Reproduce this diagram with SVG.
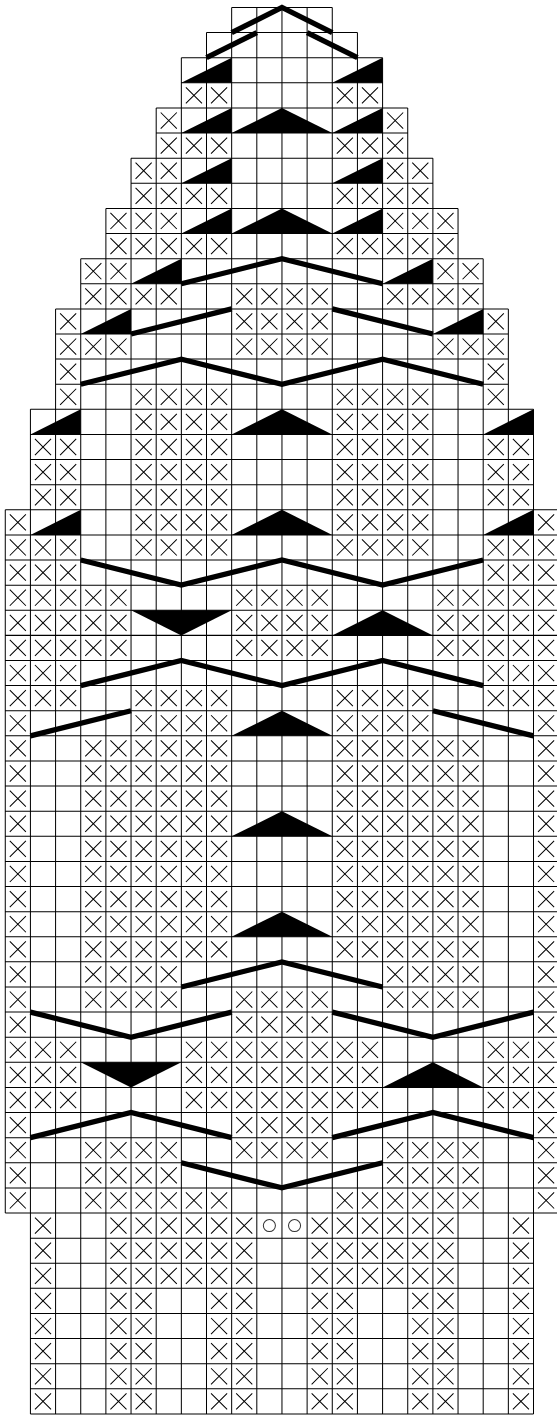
<svg xmlns="http://www.w3.org/2000/svg" width="557" height="1416" viewBox="0 0 557 1416">
<style>
.g{fill:none;stroke:#000;stroke-width:.04}
.k{fill:none;stroke:#000;stroke-width:.04}
.t{fill:none;stroke:#000;stroke-width:.21;stroke-linejoin:miter;stroke-miterlimit:10}
.f{fill:#000;stroke:none}
.o{fill:none;stroke:#333;stroke-width:.04}
</style>
<defs>
<path id="x" class="k" d="M.18 .18L.82 .82M.82 .18L.18 .82"/>
<g id="x2"><use href="#x"/><use href="#x" x="1"/></g>
<g id="x3"><use href="#x2"/><use href="#x" x="2"/></g>
<g id="x4"><use href="#x2"/><use href="#x2" x="2"/></g>
<g id="x5"><use href="#x4"/><use href="#x" x="4"/></g>
<g id="x6"><use href="#x4"/><use href="#x2" x="4"/></g>
<g id="x8"><use href="#x4"/><use href="#x4" x="4"/></g>
<path id="rt" class="f" d="M0 1L2 0V1Z"/>
<path id="up" class="f" d="M0 1L2 0L4 1Z"/>
<path id="dn" class="f" d="M0 0H4L2 1Z"/>
</defs>
<g id="chart" transform="translate(5.27,7.5) scale(25.154,25.115)">
<path id="grid" class="g" d="M9 0H13M8 1H14M7 2H15M7 3H15M6 4H16M6 5H16M5 6H17M5 7H17M4 8H18M4 9H18M3 10H19M3 11H19M2 12H20M2 13H20M2 14H20M2 15H20M1 16H21M1 17H21M1 18H21M1 19H21M0 20H22M0 21H22M0 22H22M0 23H22M0 24H22M0 25H22M0 26H22M0 27H22M0 28H22M0 29H22M0 30H22M0 31H22M0 32H22M0 33H22M0 34H22M0 35H22M0 36H22M0 37H22M0 38H22M0 39H22M0 40H22M0 41H22M0 42H22M0 43H22M0 44H22M0 45H22M0 46H22M0 47H22M0 48H22M1 49H21M1 50H21M1 51H21M1 52H21M1 53H21M1 54H21M1 55H21M1 56H21M0 20V48M1 16V56M2 12V56M3 10V56M4 8V56M5 6V56M6 4V56M7 2V56M8 1V56M9 0V56M10 0V56M11 0V56M12 0V56M13 0V56M14 1V56M15 2V56M16 4V56M17 6V56M18 8V56M19 10V56M20 12V56M21 16V56"/>
<g id="symbols">
<g id="r3" transform="translate(0,3)"><use href="#x2" x="7"/><use href="#x2" x="13"/></g>
<g id="r4" transform="translate(0,4)"><use href="#x" x="6"/><use href="#x" x="15"/></g>
<g id="r5" transform="translate(0,5)"><use href="#x3" x="6"/><use href="#x3" x="13"/></g>
<g id="r6" transform="translate(0,6)"><use href="#x2" x="5"/><use href="#x2" x="15"/></g>
<g id="r7" transform="translate(0,7)"><use href="#x4" x="5"/><use href="#x4" x="13"/></g>
<g id="r8" transform="translate(0,8)"><use href="#x3" x="4"/><use href="#x3" x="15"/></g>
<g id="r9" transform="translate(0,9)"><use href="#x5" x="4"/><use href="#x5" x="13"/></g>
<g id="r10" transform="translate(0,10)"><use href="#x2" x="3"/><use href="#x2" x="17"/></g>
<g id="r11" transform="translate(0,11)"><use href="#x4" x="3"/><use href="#x4" x="9"/><use href="#x4" x="15"/></g>
<g id="r12" transform="translate(0,12)"><use href="#x" x="2"/><use href="#x4" x="9"/><use href="#x" x="19"/></g>
<g id="r13" transform="translate(0,13)"><use href="#x3" x="2"/><use href="#x4" x="9"/><use href="#x3" x="17"/></g>
<g id="r14" transform="translate(0,14)"><use href="#x" x="2"/><use href="#x" x="19"/></g>
<g id="r15" transform="translate(0,15)"><use href="#x" x="2"/><use href="#x4" x="5"/><use href="#x4" x="13"/><use href="#x" x="19"/></g>
<g id="r16" transform="translate(0,16)"><use href="#x4" x="5"/><use href="#x4" x="13"/></g>
<g id="r17" transform="translate(0,17)"><use href="#x2" x="1"/><use href="#x4" x="5"/><use href="#x4" x="13"/><use href="#x2" x="19"/></g>
<g id="r18" transform="translate(0,18)"><use href="#x2" x="1"/><use href="#x4" x="5"/><use href="#x4" x="13"/><use href="#x2" x="19"/></g>
<g id="r19" transform="translate(0,19)"><use href="#x2" x="1"/><use href="#x4" x="5"/><use href="#x4" x="13"/><use href="#x2" x="19"/></g>
<g id="r20" transform="translate(0,20)"><use href="#x"/><use href="#x4" x="5"/><use href="#x4" x="13"/><use href="#x" x="21"/></g>
<g id="r21" transform="translate(0,21)"><use href="#x3"/><use href="#x4" x="5"/><use href="#x4" x="13"/><use href="#x3" x="19"/></g>
<g id="r22" transform="translate(0,22)"><use href="#x3"/><use href="#x3" x="19"/></g>
<g id="r23" transform="translate(0,23)"><use href="#x5"/><use href="#x4" x="9"/><use href="#x5" x="17"/></g>
<g id="r24" transform="translate(0,24)"><use href="#x5"/><use href="#x4" x="9"/><use href="#x5" x="17"/></g>
<g id="r25" transform="translate(0,25)"><use href="#x5"/><use href="#x4" x="9"/><use href="#x5" x="17"/></g>
<g id="r26" transform="translate(0,26)"><use href="#x3"/><use href="#x3" x="19"/></g>
<g id="r27" transform="translate(0,27)"><use href="#x3"/><use href="#x4" x="5"/><use href="#x4" x="13"/><use href="#x3" x="19"/></g>
<g id="r28" transform="translate(0,28)"><use href="#x"/><use href="#x4" x="5"/><use href="#x4" x="13"/><use href="#x" x="21"/></g>
<g id="r29" transform="translate(0,29)"><use href="#x"/><use href="#x6" x="3"/><use href="#x6" x="13"/><use href="#x" x="21"/></g>
<g id="r30" transform="translate(0,30)"><use href="#x"/><use href="#x6" x="3"/><use href="#x6" x="13"/><use href="#x" x="21"/></g>
<g id="r31" transform="translate(0,31)"><use href="#x"/><use href="#x6" x="3"/><use href="#x6" x="13"/><use href="#x" x="21"/></g>
<g id="r32" transform="translate(0,32)"><use href="#x"/><use href="#x6" x="3"/><use href="#x6" x="13"/><use href="#x" x="21"/></g>
<g id="r33" transform="translate(0,33)"><use href="#x"/><use href="#x6" x="3"/><use href="#x6" x="13"/><use href="#x" x="21"/></g>
<g id="r34" transform="translate(0,34)"><use href="#x"/><use href="#x6" x="3"/><use href="#x6" x="13"/><use href="#x" x="21"/></g>
<g id="r35" transform="translate(0,35)"><use href="#x"/><use href="#x6" x="3"/><use href="#x6" x="13"/><use href="#x" x="21"/></g>
<g id="r36" transform="translate(0,36)"><use href="#x"/><use href="#x6" x="3"/><use href="#x6" x="13"/><use href="#x" x="21"/></g>
<g id="r37" transform="translate(0,37)"><use href="#x"/><use href="#x6" x="3"/><use href="#x6" x="13"/><use href="#x" x="21"/></g>
<g id="r38" transform="translate(0,38)"><use href="#x"/><use href="#x4" x="3"/><use href="#x4" x="15"/><use href="#x" x="21"/></g>
<g id="r39" transform="translate(0,39)"><use href="#x"/><use href="#x4" x="3"/><use href="#x4" x="9"/><use href="#x4" x="15"/><use href="#x" x="21"/></g>
<g id="r40" transform="translate(0,40)"><use href="#x"/><use href="#x4" x="9"/><use href="#x" x="21"/></g>
<g id="r41" transform="translate(0,41)"><use href="#x3"/><use href="#x8" x="7"/><use href="#x3" x="19"/></g>
<g id="r42" transform="translate(0,42)"><use href="#x3"/><use href="#x8" x="7"/><use href="#x3" x="19"/></g>
<g id="r43" transform="translate(0,43)"><use href="#x3"/><use href="#x8" x="7"/><use href="#x3" x="19"/></g>
<g id="r44" transform="translate(0,44)"><use href="#x"/><use href="#x4" x="9"/><use href="#x" x="21"/></g>
<g id="r45" transform="translate(0,45)"><use href="#x"/><use href="#x4" x="3"/><use href="#x4" x="9"/><use href="#x4" x="15"/><use href="#x" x="21"/></g>
<g id="r46" transform="translate(0,46)"><use href="#x"/><use href="#x4" x="3"/><use href="#x4" x="15"/><use href="#x" x="21"/></g>
<g id="r47" transform="translate(0,47)"><use href="#x"/><use href="#x6" x="3"/><use href="#x6" x="13"/><use href="#x" x="21"/></g>
<g id="r48" transform="translate(0,48)"><use href="#x" x="1"/><use href="#x6" x="4"/><circle class="o" cx="10.5" cy=".5" r=".24"/><circle class="o" cx="11.5" cy=".5" r=".24"/><use href="#x6" x="12"/><use href="#x" x="20"/></g>
<g id="r49" transform="translate(0,49)"><use href="#x" x="1"/><use href="#x6" x="4"/><use href="#x6" x="12"/><use href="#x" x="20"/></g>
<g id="r50" transform="translate(0,50)"><use href="#x" x="1"/><use href="#x6" x="4"/><use href="#x6" x="12"/><use href="#x" x="20"/></g>
<g id="r51" transform="translate(0,51)"><use href="#x" x="1"/><use href="#x2" x="4"/><use href="#x2" x="8"/><use href="#x2" x="12"/><use href="#x2" x="16"/><use href="#x" x="20"/></g>
<g id="r52" transform="translate(0,52)"><use href="#x" x="1"/><use href="#x2" x="4"/><use href="#x2" x="8"/><use href="#x2" x="12"/><use href="#x2" x="16"/><use href="#x" x="20"/></g>
<g id="r53" transform="translate(0,53)"><use href="#x" x="1"/><use href="#x2" x="4"/><use href="#x2" x="8"/><use href="#x2" x="12"/><use href="#x2" x="16"/><use href="#x" x="20"/></g>
<g id="r54" transform="translate(0,54)"><use href="#x" x="1"/><use href="#x2" x="4"/><use href="#x2" x="8"/><use href="#x2" x="12"/><use href="#x2" x="16"/><use href="#x" x="20"/></g>
<g id="r55" transform="translate(0,55)"><use href="#x" x="1"/><use href="#x2" x="4"/><use href="#x2" x="8"/><use href="#x2" x="12"/><use href="#x2" x="16"/><use href="#x" x="20"/></g>
</g>
<g id="triangles">
<use href="#rt" x="7" y="2"/><use href="#rt" x="13" y="2"/>
<use href="#rt" x="7" y="4"/><use href="#up" x="9" y="4"/><use href="#rt" x="13" y="4"/>
<use href="#rt" x="7" y="6"/><use href="#rt" x="13" y="6"/>
<use href="#rt" x="7" y="8"/><use href="#up" x="9" y="8"/><use href="#rt" x="13" y="8"/>
<use href="#rt" x="5" y="10"/><use href="#rt" x="15" y="10"/>
<use href="#rt" x="3" y="12"/><use href="#rt" x="17" y="12"/>
<use href="#rt" x="1" y="16"/><use href="#up" x="9" y="16"/><use href="#rt" x="19" y="16"/>
<use href="#rt" x="1" y="20"/><use href="#up" x="9" y="20"/><use href="#rt" x="19" y="20"/>
<use href="#dn" x="5" y="24"/><use href="#up" x="13" y="24"/>
<use href="#up" x="9" y="28"/><use href="#up" x="9" y="32"/><use href="#up" x="9" y="36"/>
<use href="#dn" x="3" y="42"/><use href="#up" x="15" y="42"/>
</g>
</g>
<g id="connectors" transform="translate(5.27,7.5) scale(25.154,25.115)">
<path class="t" d="M9 1L11 0L13 1"/>
<path class="t" d="M8 2L10 1"/>
<path class="t" d="M12 1L14 2"/>
<path class="t" d="M7 11L11 10L15 11"/>
<path class="t" d="M5 13L9 12"/>
<path class="t" d="M13 12L17 13"/>
<path class="t" d="M3 15L7 14L11 15L15 14L19 15"/>
<path class="t" d="M3 22L7 23L11 22L15 23L19 22"/>
<path class="t" d="M3 27L7 26L11 27L15 26L19 27"/>
<path class="t" d="M1 29L5 28"/>
<path class="t" d="M17 28L21 29"/>
<path class="t" d="M7 39L11 38L15 39"/>
<path class="t" d="M1 40L5 41L9 40"/>
<path class="t" d="M13 40L17 41L21 40"/>
<path class="t" d="M1 45L5 44L9 45"/>
<path class="t" d="M13 45L17 44L21 45"/>
<path class="t" d="M7 46L11 47L15 46"/>
</g>
</svg>
